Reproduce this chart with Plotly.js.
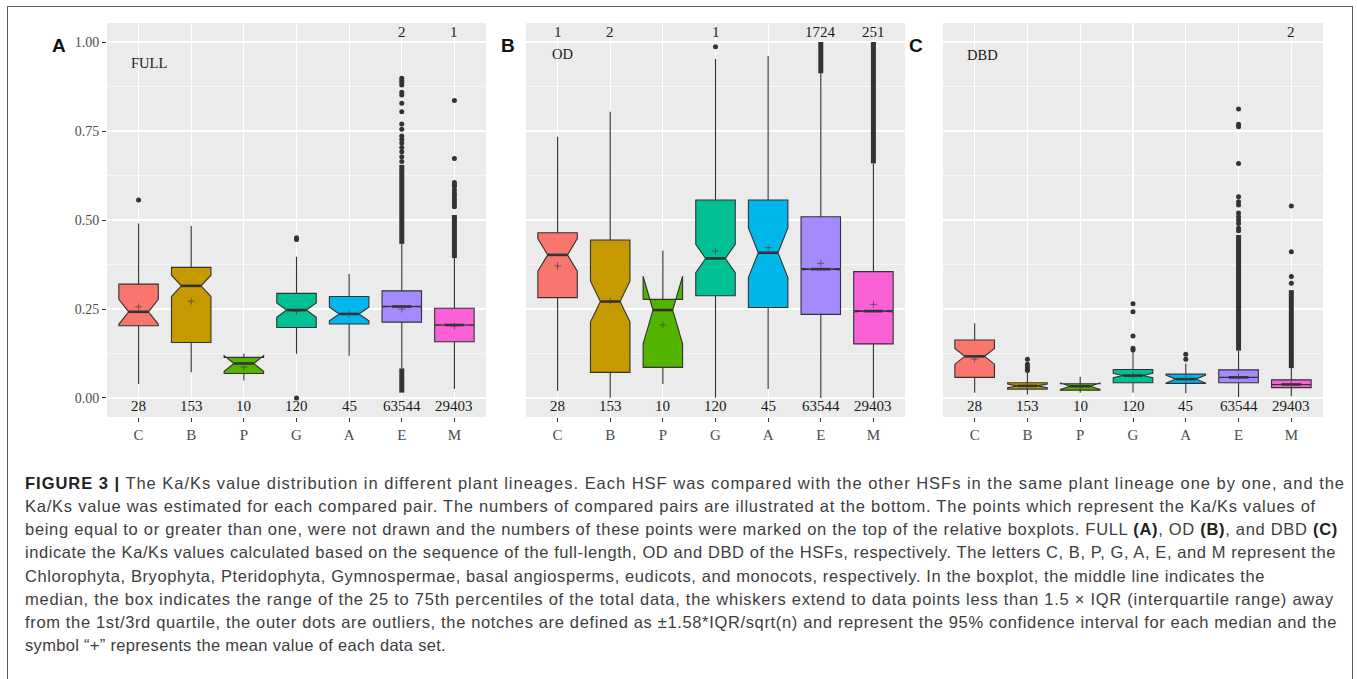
<!DOCTYPE html>
<html><head><meta charset="utf-8">
<script src="https://cdn.plot.ly/plotly-3.0.1.min.js"></script>
<style>
body{margin:0;background:#fff;width:1357px;height:679px;overflow:hidden;position:relative;}
#frame{position:absolute;left:7px;top:6px;width:1346px;height:700px;border:1.5px solid #5c5c5c;box-sizing:border-box;}
#chart{position:absolute;left:0;top:0;width:1357px;height:460px;}
#caption{position:absolute;left:25px;top:472px;font-family:'Liberation Sans',Arial,sans-serif;font-size:16.5px;line-height:23.15px;color:#3d3d3d;}
#caption div{white-space:nowrap;display:block;}
#caption span.l{display:inline-block;}
#caption b{color:#222;}
</style></head>
<body>
<div id="frame"></div>
<div id="chart"></div>
<div id="caption">
<div><span class="l"><b>FIGURE 3 |</b> The Ka/Ks value distribution in different plant lineages. Each HSF was compared with the other HSFs in the same plant lineage one by one, and the</span></div>
<div><span class="l">Ka/Ks value was estimated for each compared pair. The numbers of compared pairs are illustrated at the bottom. The points which represent the Ka/Ks values of</span></div>
<div><span class="l">being equal to or greater than one, were not drawn and the numbers of these points were marked on the top of the relative boxplots. FULL <b>(A)</b>, OD <b>(B)</b>, and DBD <b>(C)</b></span></div>
<div><span class="l">indicate the Ka/Ks values calculated based on the sequence of the full-length, OD and DBD of the HSFs, respectively. The letters C, B, P, G, A, E, and M represent the</span></div>
<div><span class="l">Chlorophyta, Bryophyta, Pteridophyta, Gymnospermae, basal angiosperms, eudicots, and monocots, respectively. In the boxplot, the middle line indicates the</span></div>
<div><span class="l">median, the box indicates the range of the 25 to 75th percentiles of the total data, the whiskers extend to data points less than 1.5 × IQR (interquartile range) away</span></div>
<div><span class="l">from the 1st/3rd quartile, the outer dots are outliers, the notches are defined as ±1.58*IQR/sqrt(n) and represent the 95% confidence interval for each median and the</span></div>
<div><span class="l">symbol “+” represents the mean value of each data set.</span></div>
</div>
<script>
// ---------------- data ----------------
const categories = ['C','B','P','G','A','E','M'];
const pairCounts = [28,153,10,120,45,63544,29403];
const panelNames = ['FULL','OD','DBD'];
const panelLetters = ['A','B','C'];
const yTickVals = [0,0.25,0.5,0.75,1];
const yTickText = ['0.00','0.25','0.50','0.75','1.00'];

// FULL
const fullQ1     = [0.203,0.156,0.069,0.198,0.208,0.213,0.158];
const fullMedian = [0.242,0.315,0.097,0.247,0.236,0.257,0.205];
const fullQ3     = [0.320,0.367,0.114,0.294,0.285,0.301,0.252];
const fullLower  = [0.039,0.072,0.049,0.124,0.119,0.083,0.025];
const fullUpper  = [0.490,0.483,0.125,0.397,0.348,0.433,0.393];
const fullMean   = [0.256,0.272,0.087,0.243,0.236,0.250,0.202];
const fullNotch  = [0.035,0.030,0.022,0.020,0.019,0.001,0.001];
const fullOutliers = [[0.556],[],[],[0.445,0.450,0.0],[],
  [0.664,0.678,0.692,0.704,0.716,0.726,0.736,0.755,0.770,0.804,0.828,0.851,0.859,0.879,0.886,0.892,0.898],
  [0.537,0.545,0.553,0.560,0.568,0.575,0.584,0.594,0.600,0.605,0.673,0.836]];
const fullDense = [[],[],[],[],[],[[0.433,0.655],[0.015,0.083]],[[0.393,0.514]]];
const fullAbove = ['','','','','','2','1'];

// OD
const odQ1     = [0.282,0.072,0.086,0.287,0.254,0.235,0.152];
const odMedian = [0.402,0.271,0.247,0.392,0.408,0.362,0.244];
const odQ3     = [0.464,0.444,0.277,0.556,0.556,0.509,0.355];
const odLower  = [0.020,0.001,0.039,0.001,0.025,0.000,0.000];
const odUpper  = [0.734,0.804,0.414,0.952,0.961,0.912,0.659];
const odMean   = [0.371,0.273,0.205,0.413,0.422,0.378,0.263];
const odNotch  = [0.046,0.057,0.095,0.040,0.070,0.002,0.002];
const odOutliers = [[],[],[],[0.987],[],[],[]];
const odDense = [[],[],[],[],[],[[0.912,1.0]],[[0.659,1.0]]];
const odAbove = ['1','2','','1','','1724','251'];

// DBD
const dbdQ1     = [0.058,0.025,0.022,0.043,0.041,0.043,0.029];
const dbdMedian = [0.117,0.034,0.033,0.063,0.053,0.058,0.038];
const dbdQ3     = [0.163,0.043,0.040,0.080,0.067,0.079,0.051];
const dbdLower  = [0.015,0.010,0.015,0.015,0.013,0.003,0.005];
const dbdUpper  = [0.210,0.070,0.060,0.130,0.097,0.133,0.084];
const dbdMean   = [0.109,0.034,0.031,0.064,0.054,0.060,0.040];
const dbdNotch  = [0.022,0.005,0.009,0.006,0.011,0.0004,0.0004];
const dbdOutliers = [[],[0.077,0.081,0.088,0.095,0.109],[],[0.135,0.140,0.174,0.242,0.265],[0.109,0.123],
  [0.470,0.477,0.490,0.500,0.509,0.520,0.542,0.551,0.565,0.659,0.762,0.769,0.812],
  [0.322,0.341,0.411,0.539]];
const dbdDense = [[],[],[],[],[],[[0.133,0.458]],[[0.084,0.303]]];
const dbdAbove = ['','','','','','','2'];

// style
const boxColors = ['#F8766D','#C49A00','#53B400','#00C094','#00B6EB','#A58AFF','#FB61D7'];
// caption line widths in the original layout (px)
const captionLineWidths = [1320,1291,1313,1311,1240,1309,1312,421];

// ---------------- build ----------------
const panels = [
  {q1:fullQ1,med:fullMedian,q3:fullQ3,lo:fullLower,hi:fullUpper,mean:fullMean,notch:fullNotch,out:fullOutliers,dense:fullDense,above:fullAbove,label:[0.2,0.94]},
  {q1:odQ1,med:odMedian,q3:odQ3,lo:odLower,hi:odUpper,mean:odMean,notch:odNotch,out:odOutliers,dense:odDense,above:odAbove,label:[0.1,0.965]},
  {q1:dbdQ1,med:dbdMedian,q3:dbdQ3,lo:dbdLower,hi:dbdUpper,mean:dbdMean,notch:dbdNotch,out:dbdOutliers,dense:dbdDense,above:dbdAbove,label:[0.14,0.963]}
];
const W = 1357, H = 460;
const xDomPx = [[107,486],[526,905],[943,1323]];
const yDom = [1-417/H, 1-23/H];
const letterX = [50,508,925];

const BOXW = 0.75, NOTCHW = 0.25;
const dark = '#333333';
const serif = 'Liberation Serif, Times New Roman, serif';
const traces = [];
const annotations = [];
const layout = {
  width: W, height: H, margin:{l:0,r:0,t:0,b:0},
  paper_bgcolor:'rgba(0,0,0,0)', plot_bgcolor:'#EBEBEB',
  showlegend:false, boxmode:'overlay', hovermode:false,
  font:{family:serif, color:'#4D4D4D'}
};

panels.forEach((p, k) => {
  const sfx = k === 0 ? '' : String(k+1);
  const xa = 'x'+sfx, ya = 'y'+sfx;
  categories.forEach((c, i) => {
    traces.push({
      type:'box', xaxis:xa, yaxis:ya, x:[i],
      q1:[p.q1[i]], median:[p.med[i]], q3:[p.q3[i]],
      lowerfence:[p.lo[i]], upperfence:[p.hi[i]],
      notched:true, notchspan:[p.notch[i]], notchwidth:NOTCHW,
      width:BOXW, whiskerwidth:0, boxpoints:false,
      fillcolor:boxColors[i], line:{color:dark, width:1.1},
      hoverinfo:'skip'
    });
  });
  // thick median segments (span the notch waist)
  const mx = [], my = [];
  const hw = BOXW/2 - BOXW*NOTCHW;
  categories.forEach((c,i) => {
    mx.push(i-hw, i+hw, null); my.push(p.med[i], p.med[i], null);
  });
  traces.push({type:'scatter', mode:'lines', xaxis:xa, yaxis:ya, x:mx, y:my,
    line:{color:dark, width:2.6}, hoverinfo:'skip'});
  // mean "+"
  traces.push({type:'scatter', mode:'markers', xaxis:xa, yaxis:ya,
    x:categories.map((c,i)=>i), y:p.mean,
    marker:{symbol:'cross-thin', size:5, line:{color:'#444', width:0.7}}, hoverinfo:'skip'});
  // outliers
  const ox = [], oy = [];
  p.out.forEach((arr,i) => arr.forEach(v => { ox.push(i); oy.push(v); }));
  traces.push({type:'scatter', mode:'markers', xaxis:xa, yaxis:ya, x:ox, y:oy,
    marker:{color:dark, size:5}, hoverinfo:'skip', cliponaxis:false});
  // dense outlier runs
  const dx = [], dy = [];
  p.dense.forEach((runs,i) => runs.forEach(r => { dx.push(i,i,null); dy.push(r[0],r[1],null); }));
  traces.push({type:'scatter', mode:'lines', xaxis:xa, yaxis:ya, x:dx, y:dy,
    line:{color:dark, width:5}, hoverinfo:'skip'});

  const px0 = xDomPx[k][0]/W, px1 = xDomPx[k][1]/W;
  layout['xaxis'+sfx] = {
    domain:[px0, px1], anchor:ya, range:[-0.6, 6.6],
    tickvals:categories.map((c,i)=>i), ticktext:categories,
    ticks:'outside', ticklen:4, tickwidth:1, tickcolor:dark,
    showgrid:true, gridcolor:'#FFFFFF', gridwidth:1.1, zeroline:false, showline:false,
    tickfont:{family:serif, size:15, color:'#4D4D4D'}, fixedrange:true
  };
  layout['yaxis'+sfx] = {
    domain:yDom, anchor:xa, range:[-0.0534, 1.0534],
    tickvals:yTickVals, ticktext:yTickText,
    ticks: k===0 ? 'outside' : '', ticklen:4, tickwidth:1, tickcolor:dark,
    showticklabels: k===0,
    showgrid:true, gridcolor:'#FFFFFF', gridwidth:1.1, zeroline:false, showline:false,
    minor:{dtick:0.125, tick0:0, showgrid:true, gridcolor:'#FFFFFF', gridwidth:0.55, ticks:''},
    tickfont:{family:serif, size:14, color:'#4D4D4D'}, fixedrange:true
  };
  categories.forEach((c,i) => {
    annotations.push({xref:xa, yref:ya, x:i, y:-0.022, text:String(pairCounts[i]), showarrow:false,
      font:{family:serif, size:15, color:'#1a1a1a'}});
    if (p.above[i]) annotations.push({xref:xa, yref:ya, x:i, y:1.027, text:p.above[i], showarrow:false,
      font:{family:serif, size:15, color:'#1a1a1a'}});
  });
  annotations.push({xref:xa, yref:ya, x:p.label[0], y:p.label[1], text:panelNames[k], showarrow:false,
    font:{family:serif, size:14.5, color:'#1a1a1a'}});
  annotations.push({xref:'paper', yref:'paper', x:letterX[k]/W, y:1-33/H, text:'<b>'+panelLetters[k]+'</b>',
    showarrow:false, font:{family:'Liberation Sans, Arial, sans-serif', size:19, color:'#111'}});
});
layout.annotations = annotations;

Plotly.newPlot('chart', traces, layout, {staticPlot:true, displayModeBar:false});

// fit each caption line's tracking to the width it has in the original
(function(){
  const spans = document.querySelectorAll('#caption span.l');
  spans.forEach((s, i) => {
    const w = s.getBoundingClientRect().width;
    const n = s.textContent.length;
    const ls = (captionLineWidths[i] - w) / n;
    s.style.letterSpacing = ls.toFixed(3) + 'px';
  });
})();
</script>
</body></html>
